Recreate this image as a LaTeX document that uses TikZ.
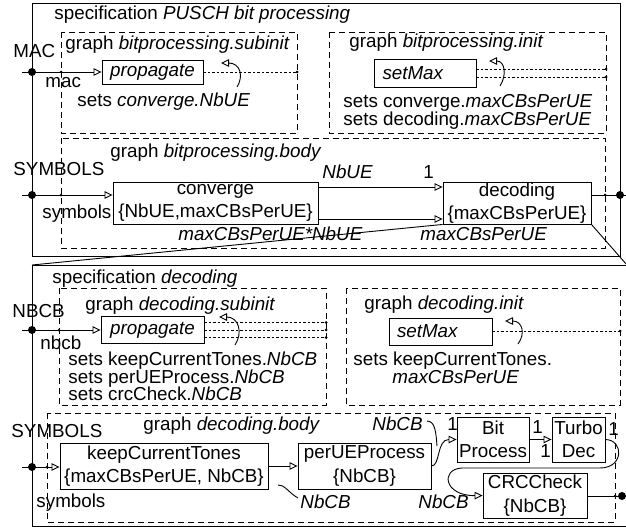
\documentclass[tikz,border=0pt]{standalone}
\usepackage{fontspec}
\setmainfont{Liberation Sans}
\usetikzlibrary{arrows.meta}
\begin{document}
\begin{tikzpicture}[x=1pt,y=-1pt, line width=0.9pt,
 every node/.style={font=\fontsize{18.8}{23.5}\selectfont},
 lbl/.style={inner sep=0pt, anchor=base west},
 blk/.style={draw, inner sep=0pt, align=center},
 arr/.style={-{Triangle[open,length=8pt,width=7.5pt]}},
 dsh/.style={dash pattern=on 6pt off 4pt},
 dtl/.style={dash pattern=on 2.5pt off 2pt},
 bigdot/.style={fill, circle, inner sep=0pt, minimum size=8pt},
 smdot/.style={fill, circle, inner sep=0pt, minimum size=3pt}]
\useasboundingbox (0,0) rectangle (626,527);

% ================= top specification =================
\draw (32,3) rectangle (620,256);
\node[lbl] (t1) at (54,20) {specification \textit{PUSCH bit processing}};
\draw[dsh] (61,32) rectangle (297,133);
\draw[dsh] (329,32) rectangle (606,133);
\draw[dsh] (61,138) rectangle (605,248);

% subinit
\node[lbl] (t2) at (65,49) {graph \textit{bitprocessing.subinit}};
\node[lbl] (t3) at (13,57) {MAC};
\node[lbl] (t4) at (45,87) {mac};
\node[lbl] (t5) at (77,106) {sets \textit{converge.NbUE}};
\node[blk, minimum width=101pt, minimum height=24pt] (prop1) at (152.5,72) {\itshape propagate};
\coordinate (macin) at (22,72);
\coordinate (macd) at (32,72);
\coordinate (macs) at (61,72);
\draw[arr] (macin) -- (prop1.west);
\node[bigdot] at (macd) {};
\node[smdot] at (macs) {};
\coordinate (p1e) at (297,72);
\draw[dtl] (prop1.east) -- (p1e);
\node[smdot] at (p1e) {};
\coordinate (sa1) at (237,87);
\coordinate (sb1) at (221,63);
\draw[arr] (sa1) .. controls (244,76) and (240,63) .. (sb1);

% init
\node[lbl] (t6) at (349,48) {graph \textit{bitprocessing.init}};
\node[blk, minimum width=102pt, minimum height=28pt, text width=85pt, inner xsep=8.5pt, align=left] (setm1) at (425,73) {\itshape setMax};
\coordinate (s1a) at (606,69);
\coordinate (s1b) at (606,77);
\draw[dtl] ([yshift=4pt]setm1.east) -- (s1a);
\draw[dtl] ([yshift=-4pt]setm1.east) -- (s1b);
\node[smdot] at (s1a) {};
\node[smdot] at (s1b) {};
\coordinate (sa2) at (500,86);
\coordinate (sb2) at (489,61);
\draw[arr] (sa2) .. controls (507,75) and (505,61) .. (sb2);
\node[lbl] (t7) at (343,107) {sets converge.\textit{maxCBsPerUE}};
\node[lbl] (t8) at (343,125) {sets decoding.\textit{maxCBsPerUE}};

% body
\node[lbl] (t9) at (110,157) {graph \textit{bitprocessing.body}};
\node[lbl] (t10) at (13,175) {SYMBOLS};
\node[lbl] (t11) at (42,218) {symbols};
\node[blk, minimum width=205pt, minimum height=42pt] (conv) at (215.5,203) {converge\\\{NbUE,maxCBsPerUE\}};
\node[blk, minimum width=148pt, minimum height=42pt] (dec) at (517,203) {decoding\\\{maxCBsPerUE\}};
\coordinate (symin) at (22,195);
\coordinate (symd) at (32,195);
\coordinate (syms) at (61,195);
\draw[arr] (symin) -- (symin -| conv.west);
\node[bigdot] at (symd) {};
\node[smdot] at (syms) {};
\draw[arr] ([yshift=16pt]conv.east) -- ([yshift=16pt]dec.west);
\draw[arr] ([yshift=-16pt]conv.east) -- ([yshift=-16pt]dec.west);
\node[lbl] (t12) at (322,178) {\textit{NbUE}};
\node[lbl] (t13) at (423,178) {1};
\node[lbl] (t14) at (178,240) {\textit{maxCBsPerUE*NbUE}};
\node[lbl] (t15) at (420,240) {\textit{maxCBsPerUE}};
\coordinate (outd) at (620,195);
\coordinate (outs) at (605,195);
\coordinate (outend) at (626,195);
\draw (outd -| dec.east) -- (outend);
\node[smdot] at (outs) {};
\node[bigdot] at (outd) {};

% zoom lines
\coordinate (bl) at (32,265);
\coordinate (br) at (627,265);
\draw (dec.south west) -- (bl);
\draw (dec.south east) -- (br);

% ================= bottom specification =================
\draw (627,265) -- (32,265) -- (32,526) -- (627,526);
\node[lbl] (u1) at (52,283) {specification \textit{decoding}};
\draw[dsh] (59,288) rectangle (326,405);
\draw[dsh] (346,288) rectangle (620,405);
\draw[dsh] (47,413) rectangle (615,522);

% subinit
\node[lbl] (u2) at (85,310) {graph \textit{decoding.subinit}};
\node[lbl] (u3) at (12,317) {NBCB};
\node[lbl] (u4) at (40,349) {nbcb};
\node[blk, minimum width=103pt, minimum height=27pt] (prop2) at (152.5,330) {\itshape propagate};
\coordinate (nbin) at (22,330);
\coordinate (nbd) at (32,330);
\coordinate (nbs) at (59,330);
\draw[arr] (nbin) -- (prop2.west);
\node[bigdot] at (nbd) {};
\node[smdot] at (nbs) {};
\coordinate (q1) at (326,322.5);
\coordinate (q2) at (326,330);
\coordinate (q3) at (326,337.5);
\draw[dtl] ([yshift=7.5pt]prop2.east) -- (q1);
\draw[dtl] (prop2.east) -- (q2);
\draw[dtl] ([yshift=-7.5pt]prop2.east) -- (q3);
\node[smdot] at (q1) {};
\node[smdot] at (q2) {};
\node[smdot] at (q3) {};
\coordinate (sa3) at (235,345);
\coordinate (sb3) at (219,317);
\draw[arr] (sa3) .. controls (243,333) and (239,317) .. (sb3);
\node[lbl] (u5) at (68,365) {sets keepCurrentTones.\textit{NbCB}};
\node[lbl] (u6) at (68,383) {sets perUEProcess.\textit{NbCB}};
\node[lbl] (u7) at (68,400) {sets crcCheck.\textit{NbCB}};

% init
\node[lbl] (u8) at (364,309) {graph \textit{decoding.init}};
\node[blk, minimum width=103pt, minimum height=27pt, text width=87pt, inner xsep=8pt, align=left] (setm2) at (440.5,331.5) {\itshape setMax};
\coordinate (r1) at (620,331);
\draw[dtl] (setm2.east |- r1) -- (r1);
\node[smdot] at (r1) {};
\coordinate (sa4) at (518,344);
\coordinate (sb4) at (505,321);
\draw[arr] (sa4) .. controls (526,333) and (522,321) .. (sb4);
\node[lbl] (u9) at (353,365) {sets keepCurrentTones.};
\node[lbl] (u10) at (392,383) {\textit{maxCBsPerUE}};

% body
\node[lbl] (u11) at (143,430) {graph \textit{decoding.body}};
\node[lbl] (u12) at (11,437) {SYMBOLS};
\node[lbl] (u13) at (36,507) {symbols};
\node[blk, minimum width=208pt, minimum height=46pt] (keep) at (164,466) {keepCurrentTones\\\{maxCBsPerUE, NbCB\}};
\node[blk, minimum width=133pt, minimum height=46pt] (perue) at (364.5,466) {perUEProcess\\\{NbCB\}};
\node[blk, minimum width=72pt, minimum height=45pt] (bit) at (493,439.5) {Bit\\Process};
\node[blk, minimum width=53pt, minimum height=45pt] (turbo) at (578.5,439.5) {Turbo\\Dec};
\node[blk, minimum width=104pt, minimum height=45pt] (crc) at (535,495.5) {CRCCheck\\\{NbCB\}};
\coordinate (syin) at (22,467);
\coordinate (syd) at (32,467);
\coordinate (sys) at (47,467);
\draw[arr] (syin) -- (syin -| keep.west);
\node[bigdot] at (syd) {};
\node[smdot] at (sys) {};
\draw[arr] (keep.east) -- (perue.west);
\draw[arr] (perue.east) .. controls +(9,0) and +(-20,0) .. (bit.west);
\draw[arr] (bit.east) -- (turbo.west);
\draw[arr] (turbo.east) .. controls (624,440) and (624,468) .. (600,468) -- (462,468) .. controls (440,469) and (444,496) .. (crc.west);
\coordinate (co) at (626,496);
\coordinate (cod) at (622,496);
\coordinate (cos) at (615,496);
\draw (crc.east |- co) -- (co);
\node[smdot] at (cos) {};
\node[bigdot] at (cod) {};
% labels
\node[lbl] (v1) at (372,430) {\textit{NbCB}};
\coordinate (la1) at (427,421);
\coordinate (lb1) at (437,446);
\draw (la1) .. controls (435,421) and (436,432) .. (lb1);
\node[lbl] (v2) at (447,430) {1};
\node[lbl] (v3) at (532,433) {1};
\node[lbl] (v4) at (540,457) {1};
\node[lbl] (v5) at (608,435) {1};
\node[lbl] (v6) at (300,508) {\textit{NbCB}};
\coordinate (la2) at (278,485);
\coordinate (lb2) at (298,498);
\draw (la2) .. controls (284,484) and (289,493) .. (lb2);
\node[lbl] (v7) at (418,508) {\textit{NbCB}};
\end{tikzpicture}
\end{document}
